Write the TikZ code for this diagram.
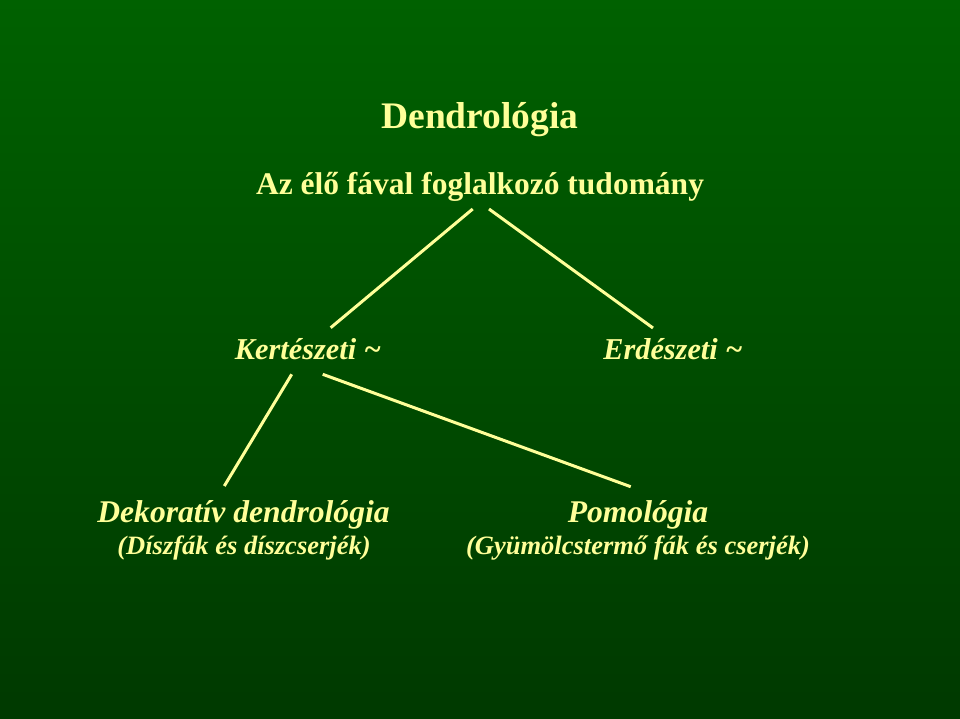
\documentclass[tikz,border=0pt]{standalone}
\usepackage{fontspec}
\setmainfont{Liberation Serif}
\definecolor{slidetop}{HTML}{006100}
\definecolor{slidebot}{HTML}{003900}
\definecolor{paleyellow}{HTML}{FFFF99}
\tikzset{
	lbl/.style={anchor=base, inner sep=0pt, text=paleyellow},
	branch/.style={lbl, font=\fontsize{30.3}{33}\selectfont\bfseries\itshape},
	leaf/.style={lbl, font=\fontsize{31.6}{34}\selectfont\bfseries\itshape},
	note/.style={lbl, font=\fontsize{26.5}{29}\selectfont\bfseries\itshape},
	twig/.style={draw=paleyellow, line width=3pt}
}
\begin{document}
\begin{tikzpicture}[x=1pt,y=-1pt]
	\useasboundingbox (0,0) rectangle (960,718);
	\shade[top color=slidetop, bottom color=slidebot] (0,0) rectangle (960,718);

	\node[lbl, font=\fontsize{37.5}{40}\selectfont\bfseries] (title) at (480,128.3){Dendrológia};
	\node[lbl, font=\fontsize{31.5}{34}\selectfont\bfseries] (sub) at (480,194.5){Az élő fával foglalkozó tudomány};

	\node[branch] (kert) at (308,359){Kertészeti \char`\~};
	\node[branch] (erd) at (673,359){Erdészeti \char`\~};

	\node[leaf] (dekor) at (243.5,522){Dekoratív dendrológia};
	\node[note] (diszfa) at (244,554.5){(Díszfák és díszcserjék)};
	\node[leaf] (pomo) at (638,522){Pomológia};
	\node[note] (gyum) at (638,554.5){(Gyümölcstermő fák és cserjék)};

	\coordinate (sub-l) at (472.7,209);
	\coordinate (sub-r) at (489,209);
	\coordinate (kert-t) at (330.7,327.7);
	\coordinate (erd-t) at (653,328);
	\coordinate (kert-l) at (291.7,374.3);
	\coordinate (kert-r) at (322.7,374.3);
	\coordinate (dekor-t) at (224.3,486);
	\coordinate (pomo-t) at (630.7,486.7);

	\draw[twig] (sub-l)--(kert-t);
	\draw[twig] (sub-r)--(erd-t);
	\draw[twig] (kert-l)--(dekor-t);
	\draw[twig] (kert-r)--(pomo-t);
\end{tikzpicture}
\end{document}
